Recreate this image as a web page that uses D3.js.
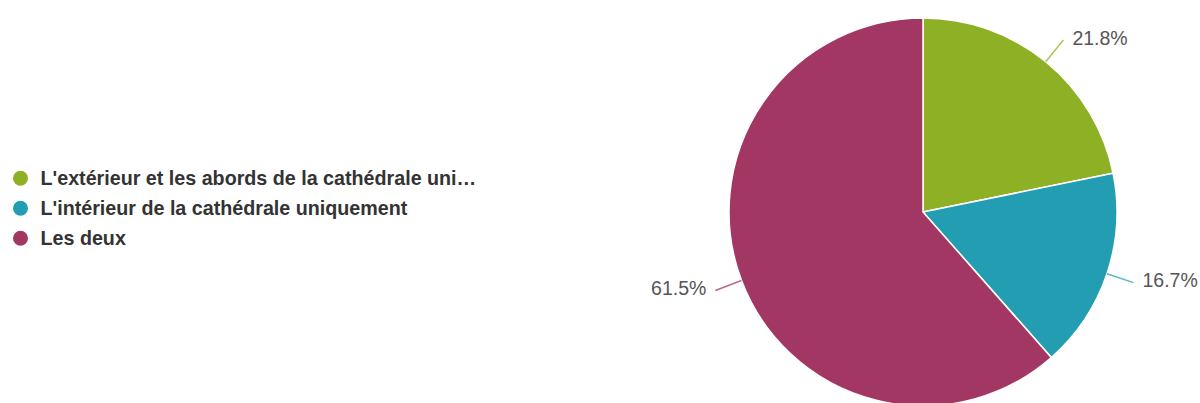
<!DOCTYPE html>
<html>
<head>
<meta charset="utf-8">
<script src="https://cdn.jsdelivr.net/npm/d3@7"></script>
<style>
  html, body { margin: 0; padding: 0; background: #ffffff; }
  svg { display: block; }
</style>
</head>
<body>
<svg id="chart"></svg>
<script>
const categories = [
  "L'extérieur et les abords de la cathédrale uni…",
  "L'intérieur de la cathédrale uniquement",
  "Les deux"
];
const shares = [21.8, 16.7, 61.5];
const colors = ["#8db024", "#229db1", "#a33764"];

const width = 1200, height = 403;
const cx = 923, cy = 212, radius = 194;

const svg = d3.select('#chart')
  .attr('width', width)
  .attr('height', height);

const data = categories.map((c, i) => ({ name: c, value: shares[i], color: colors[i] }));

const pie = d3.pie().sort(null).value(d => d.value);
const arcs = pie(data);

const arc = d3.arc().innerRadius(0).outerRadius(radius);

const g = svg.append('g').attr('transform', `translate(${cx},${cy})`);

g.selectAll('path.slice')
  .data(arcs)
  .enter().append('path')
  .attr('class', 'slice')
  .attr('d', arc)
  .attr('fill', d => d.data.color)
  .attr('stroke', '#ffffff')
  .attr('stroke-width', 1.5);

// leader lines + percent labels
const inner = d3.arc().innerRadius(radius).outerRadius(radius);
const outer = d3.arc().innerRadius(radius + 28).outerRadius(radius + 28);

arcs.forEach(d => {
  const mid = (d.startAngle + d.endAngle) / 2;
  const p0 = inner.centroid(d);
  const p1 = outer.centroid(d);
  const right = Math.sin(mid) >= 0;
  g.append('line')
    .attr('x1', p0[0]).attr('y1', p0[1])
    .attr('x2', p1[0]).attr('y2', p1[1])
    .attr('stroke', d.data.color)
    .attr('stroke-opacity', 0.75)
    .attr('stroke-width', 1.5);
  g.append('text')
    .attr('x', p1[0] + (right ? 9 : -9))
    .attr('y', p1[1] - 2)
    .attr('dy', '0.35em')
    .attr('text-anchor', right ? 'start' : 'end')
    .attr('font-family', 'Liberation Sans, Arial, sans-serif')
    .attr('font-size', '19.5px')
    .attr('fill', '#555555')
    .text(d.data.value.toFixed(1) + '%');
});

// legend
const legend = svg.append('g')
  .attr('font-family', 'Liberation Sans, Arial, sans-serif')
  .selectAll('g')
  .data(data)
  .enter().append('g')
  .attr('transform', (d, i) => `translate(20.5,${178.3 + i * 30})`);

legend.append('circle')
  .attr('r', 7.5)
  .attr('fill', d => d.color);

legend.append('text')
  .attr('x', 20)
  .attr('dy', '0.35em')
  .attr('font-size', '19.7px')
  .attr('font-weight', 'bold')
  .attr('fill', '#333333')
  .text(d => d.name);
</script>
</body>
</html>
